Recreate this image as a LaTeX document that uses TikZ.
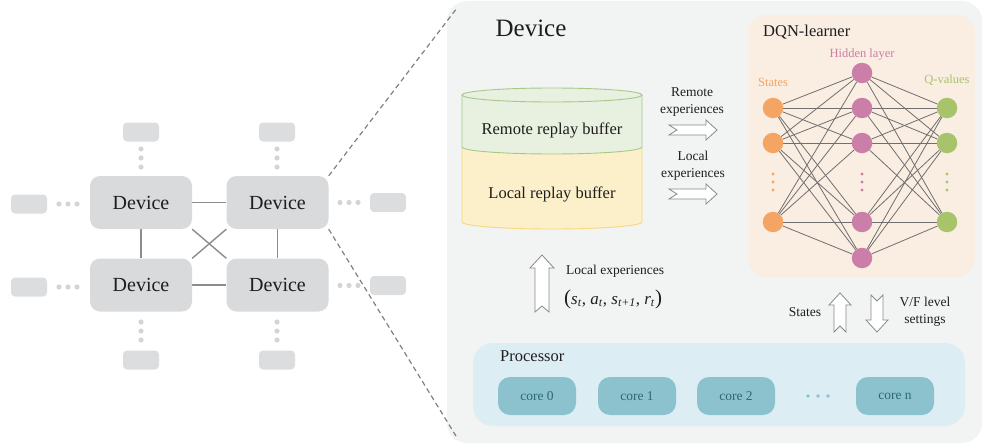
\documentclass[tikz,border=0pt]{standalone}
\usepackage{fontspec}
\setmainfont{Liberation Serif}
\definecolor{devfill}{HTML}{D9DADB}
\definecolor{smallfill}{HTML}{DCDDDE}
\definecolor{dotgray}{HTML}{D3D4D5}
\definecolor{linkgray}{HTML}{8C8C8C}
\definecolor{dashgray}{HTML}{808080}
\definecolor{panelfill}{HTML}{F2F3F3}
\definecolor{dqnfill}{HTML}{FAEDE2}
\definecolor{procfill}{HTML}{DCEEF4}
\definecolor{corefill}{HTML}{8CC2CE}
\definecolor{coretext}{HTML}{2C6878}
\definecolor{greenfill}{HTML}{E8F0E0}
\definecolor{greenline}{HTML}{A6C98A}
\definecolor{yelfill}{HTML}{FCF0CA}
\definecolor{yelline}{HTML}{F6D97C}
\definecolor{stateC}{HTML}{F4A563}
\definecolor{hidC}{HTML}{CB7FA8}
\definecolor{qC}{HTML}{A8C46B}
\definecolor{edgeC}{HTML}{6F6F6F}
\definecolor{arrline}{HTML}{8A8A8A}
\definecolor{txt}{HTML}{1E1E1E}
\pgfdeclarelayer{back}
\pgfdeclarelayer{mid}
\pgfsetlayers{back,mid,main}
\tikzset{
  pics/barrow/.style n args={5}{code={
    \draw[arrstyle] (0,-#3) -- (#1-#2,-#3) -- (#1-#2,-#4) -- (#1,0) -- (#1-#2,#4) -- (#1-#2,#3) -- (0,#3) -- (#5,0) -- cycle;
  }},
  arrstyle/.style={draw=arrline, fill=white, line width=0.8pt, line join=miter},
}
\begin{document}
\begin{tikzpicture}[x=1pt,y=-1pt,
  dev/.style={fill=devfill, rounded corners=10pt, minimum width=102pt, minimum height=53pt, inner sep=0pt, font=\fontsize{20}{24}\selectfont, text=txt},
  sbox/.style={fill=smallfill, rounded corners=4pt, minimum width=36pt, minimum height=19pt, inner sep=0pt},
  link/.style={draw=linkgray, line width=1.4pt},
  zoomline/.style={draw=dashgray, line width=1.2pt, dash pattern=on 5pt off 3.5pt},
  panel/.style={rounded corners=#1, inner sep=0pt, draw=none},
  lbl/.style={font=\fontsize{13.5}{17.5}\selectfont, text=txt, align=center, inner sep=0pt},
  nnlbl/.style={font=\fontsize{12.5}{15}\selectfont, inner sep=0pt},
  neuron/.style={circle, minimum size=20.5pt, inner sep=0pt, fill=#1},
  nnedge/.style={draw=edgeC, line width=0.8pt},
  core/.style={fill=corefill, rounded corners=12pt, minimum width=78pt, minimum height=38pt, inner sep=0pt, font=\fontsize{13.5}{16}\selectfont, text=coretext},
  cyltext/.style={font=\fontsize{16.5}{20}\selectfont, text=txt, inner sep=0pt},
  ttl/.style={text=txt, inner sep=0pt},
]
\useasboundingbox (0,0) rectangle (983,444);

% ---------------- panels ----------------
\begin{pgfonlayer}{back}
  \node[panel=20pt, fill=panelfill, minimum width=535pt, minimum height=442pt] (devpanel) at (714.5,222) {};
  \node[panel=18pt, fill=dqnfill, minimum width=227pt, minimum height=262pt] (dqn) at (861.5,146) {};
  \node[panel=20pt, fill=procfill, minimum width=492pt, minimum height=83pt] (proc) at (719,384.5) {};
\end{pgfonlayer}

% ---------------- left network ----------------
\node[dev] (dev1) at (141,202.5) {Device};
\node[dev] (dev2) at (277.5,202.5) {Device};
\node[dev] (dev3) at (141,285) {Device};
\node[dev] (dev4) at (277.5,285) {Device};

\node[sbox] (sb1) at (141,132) {};
\node[sbox] (sb2) at (277,132) {};
\node[sbox] (sb3) at (29,204) {};
\node[sbox] (sb4) at (29,287) {};
\node[sbox] (sb5) at (388,202.5) {};
\node[sbox] (sb6) at (388,285.5) {};
\node[sbox] (sb7) at (141,360) {};
\node[sbox] (sb8) at (277,360) {};

\foreach \y in {149,158,167,322,331,340} {
  \fill[dotgray] (141,\y) circle[radius=2.6];
  \fill[dotgray] (277,\y) circle[radius=2.6];
}
\foreach \x in {59,68,77} {
  \fill[dotgray] (\x,204) circle[radius=2.6];
  \fill[dotgray] (\x,287) circle[radius=2.6];
}
\foreach \x in {340,349,358} {
  \fill[dotgray] (\x,202.5) circle[radius=2.6];
  \fill[dotgray] (\x,285.5) circle[radius=2.6];
}

\coordinate (ptop) at (457,8);
\coordinate (pbot) at (456,436);

\begin{pgfonlayer}{mid}
  \draw[link] (dev1) -- (dev2);
  \draw[link] (dev3) -- (dev4);
  \draw[link] (dev1) -- (dev3);
  \draw[link] (dev2) -- (dev4);
  \draw[link] (dev1.south east) -- (dev4.north west);
  \draw[link] (dev2.south west) -- (dev3.north east);
  \draw[zoomline] (dev2.north east) -- (ptop);
  \draw[zoomline] (dev2.south east) -- (pbot);
\end{pgfonlayer}

% ---------------- device title ----------------
\node[ttl, font=\fontsize{25}{30}\selectfont] (devtitle) at (531,28) {Device};

% ---------------- cylinder ----------------
\filldraw[fill=yelfill, draw=yelline, line width=0.9pt] (462,147) -- (462,222) arc[start angle=180, end angle=0, x radius=90, y radius=7] -- (642,147);
\filldraw[fill=greenfill, draw=greenline, line width=0.9pt] (462,95) -- (462,147) arc[start angle=180, end angle=0, x radius=90, y radius=7] -- (642,95);
\filldraw[fill=greenfill, draw=greenline, line width=0.9pt] (552,95) ellipse[x radius=90, y radius=7];
\node[cyltext] (remtext) at (552,130) {Remote replay buffer};
\node[cyltext] (loctext) at (552,194) {Local replay buffer};

% ---------------- experience arrows ----------------
\node[lbl] (remlab) at (692,102) {Remote\\experiences};
\node[lbl] (loclab) at (693,166) {Local\\experiences};
\pic at (669,130) {barrow={48}{11}{5}{10}{8}};
\pic at (669,194) {barrow={48}{11}{5}{10}{8}};

\pic[rotate=90] at (542,312) {barrow={57}{13}{7}{12}{6}};
\node[lbl, anchor=west] (locexp) at (566,271) {Local experiences};
\node[anchor=west, inner sep=0pt, text=txt, font=\fontsize{17}{20}\selectfont] (tuple) at (564,299)
  {{\fontsize{21}{22}\selectfont(}\textit{s}\textsubscript{\textit{t}}, \textit{a}\textsubscript{\textit{t}}, \textit{s}\textsubscript{\textit{t+1}}, \textit{r}\textsubscript{\textit{t}}{\fontsize{21}{22}\selectfont)}};

\pic[rotate=90] at (840,332) {barrow={39}{12}{6}{11}{6}};
\pic[rotate=-90] at (877,295) {barrow={37}{12}{6}{11}{6}};
\node[lbl] (stlab) at (805,312) {States};
\node[lbl] (vflab) at (925,312) {V/F level\\settings};

% ---------------- DQN learner ----------------
\node[ttl, anchor=west, font=\fontsize{16.5}{20}\selectfont] (dqntitle) at (763,32) {DQN-learner};
\node[nnlbl, text=hidC] (hidlab) at (862,55) {Hidden layer};
\node[nnlbl, text=stateC] (stateslab) at (773,82) {States};
\node[nnlbl, text=qC] (qlab) at (947,80) {Q-values};

\foreach \i/\y in {1/108,2/143,3/222} {
  \node[neuron=stateC] (s\i) at (773,\y) {};
  \node[neuron=qC] (q\i) at (947,\y) {};
}
\foreach \i/\y in {1/73,2/108,3/143,4/222,5/258} {
  \node[neuron=hidC] (h\i) at (862,\y) {};
}
\begin{pgfonlayer}{mid}
  \foreach \i in {1,2,3} {
    \foreach \j in {1,...,5} {
      \draw[nnedge] (s\i) -- (h\j);
      \draw[nnedge] (h\j) -- (q\i);
    }
  }
\end{pgfonlayer}
\foreach \y in {174,182,190} {
  \fill[stateC] (773,\y) circle[radius=1.6];
  \fill[hidC] (862,\y) circle[radius=1.6];
  \fill[qC] (947,\y) circle[radius=1.6];
}

% ---------------- processor ----------------
\node[ttl, anchor=west, font=\fontsize{16.5}{20}\selectfont] (proctitle) at (500,356) {Processor};
\node[core] (c0) at (537,396) {core 0};
\node[core] (c1) at (637,396) {core 1};
\node[core] (c2) at (736,396) {core 2};
\node[core] (cn) at (895,396) {core n};
\foreach \x in {808,818,828} {
  \fill[corefill] (\x,396) circle[radius=1.8];
}
\end{tikzpicture}
\end{document}
